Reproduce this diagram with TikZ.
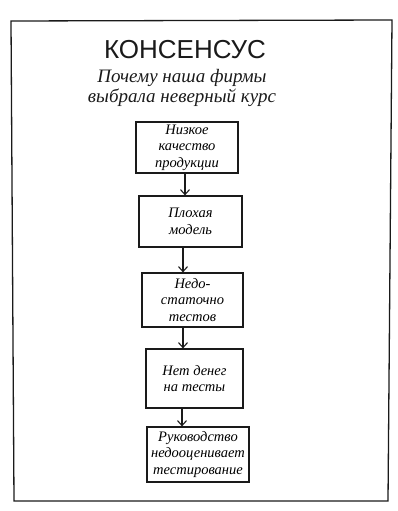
\documentclass[tikz,border=0pt]{standalone}
\usepackage{fontspec}
\setmainfont{Liberation Serif}
\newfontfamily\titlefont{Liberation Sans}
\usetikzlibrary{arrows.meta}
\definecolor{ink}{HTML}{1A1A1A}
\tikzset{
  causebox/.style={draw=ink,line width=1.2pt,align=center,inner sep=1pt,
    font=\fontsize{14.5}{16.5}\selectfont\itshape},
  causearrow/.style={-{Straight Barb[length=5pt,width=9pt]},line width=1.1pt,ink}
}

\begin{document}
\begin{tikzpicture}[x=1pt,y=-1pt]
\useasboundingbox (0,0) rectangle (397,511);
\draw[ink,line width=1.3pt] (11,21)--(392,20)--(388,501)--(14,501)--cycle;
\node[ink,font=\titlefont\fontsize{26}{30}\selectfont] (title) at (185,50) {КОНСЕНСУС};
\node[ink,align=center,font=\fontsize{19}{19.5}\selectfont\itshape] (sub) at (182,88)
  {Почему наша фирмы\\выбрала неверный курс};
\node[causebox,minimum width=102pt,minimum height=51pt] (b1) at (187,147.5)
  {Низкое\\качество\\продукции};
\node[causebox,minimum width=103pt,minimum height=51pt] (b2) at (190.5,221.5)
  {Плохая\\модель};
\node[causebox,minimum width=101pt,minimum height=54pt] (b3) at (192.5,300)
  {Недо-\\статочно\\тестов};
\node[causebox,minimum width=97pt,minimum height=59pt] (b4) at (194.5,378.5)
  {Нет денег\\на тесты};
\node[causebox,minimum width=102pt,minimum height=55pt] (b5) at (198,454.5)
  {Руководство\\недооценивает\\тестирование};
\draw[causearrow] ([xshift=-2pt]b1.south) -- ([xshift=-2pt]b1.south |- b2.north);
\draw[causearrow] ([xshift=-7.5pt]b2.south) -- ([xshift=-7.5pt]b2.south |- b3.north);
\draw[causearrow] ([xshift=-9.5pt]b3.south) -- ([xshift=-9.5pt]b3.south |- b4.north);
\draw[causearrow] ([xshift=-12.5pt]b4.south) -- ([xshift=-12.5pt]b4.south |- b5.north);
\end{tikzpicture}
\end{document}
